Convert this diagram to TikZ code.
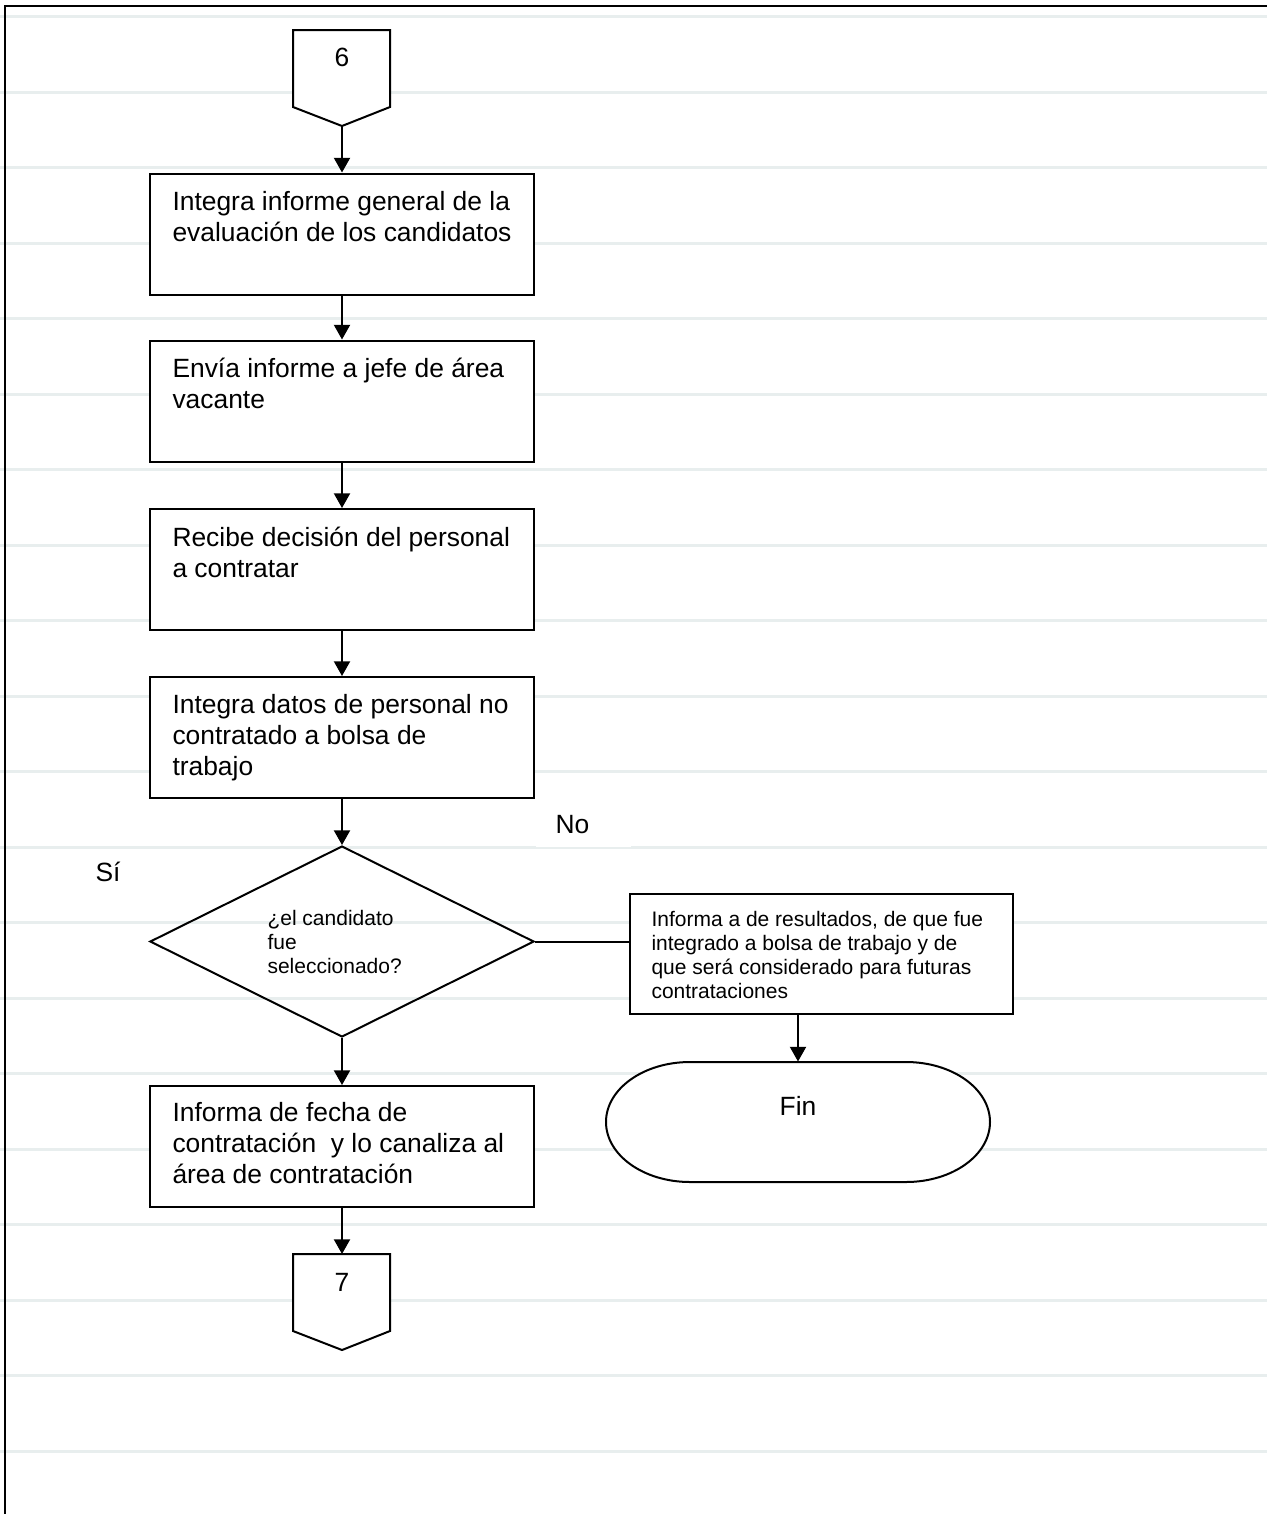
\documentclass[tikz,border=0pt]{standalone}
\usepackage{fontspec}
\setmainfont{Liberation Sans}
\usetikzlibrary{arrows.meta,shapes.geometric}

\definecolor{guidegray}{RGB}{232,238,238}

\tikzset{every picture/.style={line width=0.75pt}}
\tikzset{
	procbox/.style={draw, fill=white, line width=1.5pt, minimum width=288pt, minimum height=90.75pt, inner sep=0pt},
	decisbox/.style={draw, diamond, line width=1.5pt, minimum width=288pt, minimum height=143.25pt, inner sep=0pt},
	notebox/.style={draw, fill=white, line width=1.5pt, minimum width=287.25pt, minimum height=90pt, inner sep=0pt},
	boxtext/.style={anchor=north west, align=left, inner sep=0pt, font=\fontsize{19.8pt}{23.25pt}\selectfont},
	smalltext/.style={anchor=north west, align=left, inner sep=0pt, font=\fontsize{15.75pt}{18pt}\selectfont},
	bigtext/.style={inner sep=0pt, font=\fontsize{19.8pt}{23.25pt}\selectfont},
	flow/.style={line width=1.5pt, -{Triangle[length=11pt,width=12pt]}},
	guide/.style={line width=2.25pt, color=guidegray}
}

\begin{document}
\begin{tikzpicture}[x=0.75pt,y=0.75pt,yscale=-1,xscale=1]
	\useasboundingbox (0,0) rectangle (1267,1514);

	% ruled paper
	\foreach \k in {0,...,19}
		\draw[guide] (0,{16.7+75.5*\k}) -- (1267,{16.7+75.5*\k});

	%Straight Lines: page frame
	\draw[line width=1.5pt] (5,1514) -- (5,6) -- (1267,6);

	%Shape: off-page connector 6
	\draw[line width=1.5pt, fill=white] (293,30) -- (390,30) -- (390,107) -- (342,126) -- (293,107) -- cycle;
	\coordinate (c6) at (342,126);
	\node[bigtext, anchor=base] (n6) at (342,66) {6};

	%Shape: Rectangles
	\node[procbox] (b1) at (342,234) {};
	\node[procbox] (b2) at (342,401) {};
	\node[procbox] (b3) at (342,569.5) {};
	\node[procbox] (b4) at (342,737.5) {};
	\node[procbox] (b5) at (342,1146.5) {};

	%Shape: Diamond
	\node[decisbox] (dec) at (342,941.5) {};

	%Shape: Rectangle
	\node[notebox] (rb) at (821.5,954) {};

	%Shape: terminal
	\node[minimum width=288pt, minimum height=90pt, inner sep=0pt] (fin) at (798,1122) {};
	\draw[line width=1.5pt, fill=white] (690,1062) -- (906,1062) arc (-90:90:63pt and 45pt) -- (690,1182) arc (90:270:63pt and 45pt) -- cycle;

	%Shape: off-page connector 7
	\draw[line width=1.5pt, fill=white] (293,1254) -- (390,1254) -- (390,1331) -- (342,1350) -- (293,1331) -- cycle;
	\coordinate (c7) at (342,1254);
	\node[bigtext, anchor=base] (n7) at (342,1291) {7};

	% Text Node
	\node[boxtext] (t1) at (172,191) {Integra informe general de la\\evaluación de los candidatos};
	% Text Node
	\node[boxtext] (t2) at (172,358) {Envía informe a jefe de área\\vacante};
	% Text Node
	\node[boxtext] (t3) at (172,527) {Recibe decisión del personal\\a contratar};
	% Text Node
	\node[boxtext] (t4) at (172,694) {Integra datos de personal no\\contratado a bolsa de\\trabajo};
	% Text Node
	\node[boxtext] (t5) at (172,1102) {Informa de fecha de\\contratación~ y lo canaliza al\\área de contratación};
	% Text Node
	\node[smalltext] (dt) at (267,910) {¿el candidato\\fue\\seleccionado?};
	% Text Node
	\node[smalltext] (rt) at (651,911) {Informa a de resultados, de que fue\\integrado a bolsa de trabajo y de\\que será considerado para futuras\\contrataciones};
	% Text Node
	\node[bigtext, anchor=base] (fintxt) at (798,1115) {Fin};
	% Text Node
	\node[bigtext, anchor=base west, fill=white, inner xsep=15pt, inner ysep=10pt, text width=41.25pt, align=left] (no) at (535,833) {No};
	% Text Node
	\node[bigtext, anchor=base west] (si) at (95,881) {Sí};

	%Straight Lines
	\draw[flow] (c6) -- (b1.north);
	\draw[flow] (b1) -- (b2);
	\draw[flow] (b2) -- (b3);
	\draw[flow] (b3) -- (b4);
	\draw[flow] (b4) -- (dec.north);
	\draw[flow] (dec.south) -- (b5);
	\draw[flow] (b5) -- (c7);
	\draw[line width=1.5pt] (dec.east) -- (dec.east -| rb.west);
	\draw[flow] (rb.south -| fin.north) -- (fin.north);

\end{tikzpicture}
\end{document}
